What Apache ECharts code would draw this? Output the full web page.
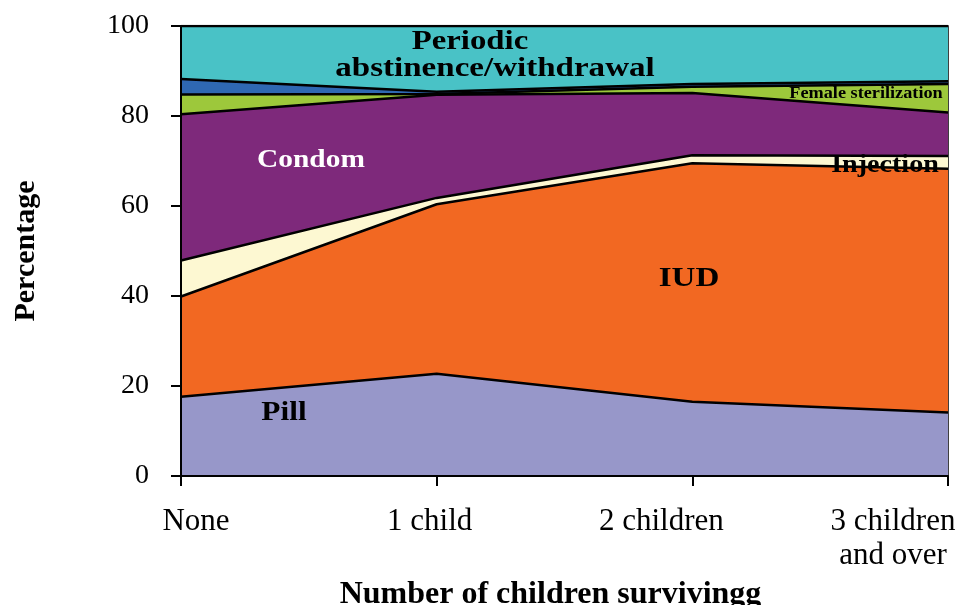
<!DOCTYPE html>
<html><head><meta charset="utf-8">
<script src="https://cdn.jsdelivr.net/npm/echarts@6/dist/echarts.min.js"></script>
<style>html,body{margin:0;padding:0;background:#fff}#c{width:962px;height:605px}</style>
</head><body><div id="c"></div>
<script>
var categories = ['None', '1 child', '2 children', '3 children\nand over'];
var pill = [17.6, 22.7, 16.5, 14.1];
var iud = [22.3, 37.7, 53.0, 54.2];
var injection = [8.0, 1.4, 1.8, 2.8];
var condom = [32.5, 22.9, 13.8, 9.7];
var femaleSterilization = [4.4, 0.2, 1.4, 6.3];
var other = [3.4, 0.5, 0.6, 0.6];
var periodic = [11.8, 14.6, 12.9, 12.3];
var yTicks = [0, 20, 40, 60, 80, 100];

var serif = 'Liberation Serif';
function layer(name, data, color) {
  return {
    name: name, type: 'line', stack: 'all', data: data,
    symbol: 'none', smooth: false,
    lineStyle: { color: '#000', width: 2.5 },
    areaStyle: { color: color, opacity: 1 },
    z: 2
  };
}
function label(text, x, y, size, sx, fill) {
  return { type: 'text', x: x, y: y, scaleX: sx, z: 10,
    style: { text: text, font: 'bold ' + size + 'px "Liberation Serif"', fill: fill || '#000', align: 'center', verticalAlign: 'middle' } };
}
// horizontal label padding (layout only) to mimic the original label placement
var labelPads = [[0, 0, 0, 30], [0, 14, 0, 0], [0, 62, 0, 0], [0, 110, 0, 0]];
var xAxisData = categories.map(function (c, i) {
  return { value: c, textStyle: { padding: labelPads[i] } };
});
var chart = echarts.init(document.getElementById('c'));
chart.setOption({
  animation: false,
  grid: { left: 181, right: 14, top: 26, bottom: 129, containLabel: false, outerBoundsMode: 'none',
    show: true, borderColor: '#000', borderWidth: 1.5, backgroundColor: 'transparent' },
  xAxis: {
    type: 'category', data: xAxisData, boundaryGap: false,
    axisLine: { lineStyle: { color: '#000', width: 2 } },
    axisTick: { show: true, length: 10, lineStyle: { color: '#000', width: 2 } },
    axisLabel: { color: '#000', fontFamily: serif, fontSize: 31, margin: 29, lineHeight: 34 },
    name: 'Number of children survivingg', nameLocation: 'middle', nameGap: 103,
    nameTextStyle: { color: '#000', fontFamily: serif, fontSize: 32, fontWeight: 'bold', padding: [0, 28, 0, 0] },
    z: 5
  },
  yAxis: {
    type: 'value', min: 0, max: 100, interval: 20,
    axisLine: { show: true, lineStyle: { color: '#000', width: 2 } },
    axisTick: { show: true, length: 10, lineStyle: { color: '#000', width: 2 } },
    axisLabel: { color: '#000', fontFamily: serif, fontSize: 28, margin: 32,
      formatter: function (v) { return yTicks.indexOf(v) >= 0 ? String(v) : ''; } },
    splitLine: { show: false },
    name: 'Percentage', nameLocation: 'middle', nameGap: 140, nameRotate: 90,
    nameTextStyle: { color: '#000', fontFamily: serif, fontSize: 30, fontWeight: 'bold' },
    z: 5
  },
  series: [
    layer('Pill', pill, '#9797c9'),
    layer('IUD', iud, '#f26822'),
    layer('Injection', injection, '#fdf8d2'),
    layer('Condom', condom, '#7e297b'),
    layer('Female sterilization', femaleSterilization, '#9dc83b'),
    layer('Other', other, '#2f68b2'),
    layer('Periodic abstinence/withdrawal', periodic, '#49c2c6')
  ],
  graphic: [
    label('Periodic', 470, 42, 28, 1.17),
    label('abstinence/withdrawal', 495, 69, 28, 1.18),
    label('Female sterilization', 866, 94, 16, 1.14),
    label('Condom', 311, 160, 26, 1.13, '#fff'),
    label('Injection', 885, 165, 26, 1.08),
    label('IUD', 689, 279, 28, 1.18),
    label('Pill', 284, 413, 28, 1.12)
  ]
});
</script></body></html>
